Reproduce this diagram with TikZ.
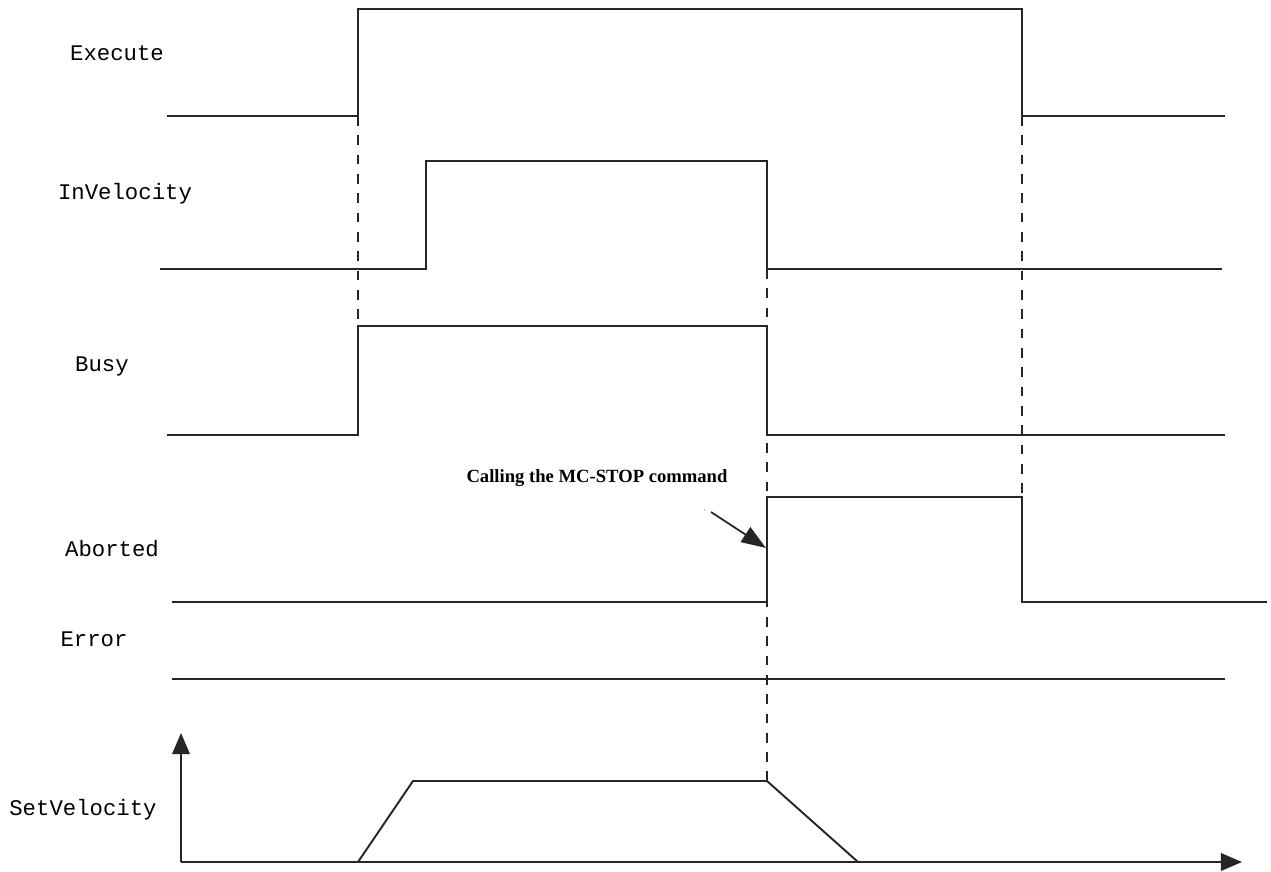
\documentclass[tikz,border=0pt]{standalone}
\usepackage{fontspec}
\setmainfont{Liberation Serif}
\newfontfamily\sigfont{Liberation Mono}
\usetikzlibrary{arrows.meta}

\tikzset{
  sigline/.style={black!85, line width=1.1pt},
  guide/.style={black!85, line width=1.1pt, dash pattern=on 5.5pt off 5.5pt},
  signame/.style={font=\sigfont\fontsize{12.7}{15}\selectfont},
  note/.style={font=\bfseries\fontsize{10.6}{12}\selectfont}
}

\begin{document}
\begin{tikzpicture}[x=0.02cm, y=-0.02cm, >={Triangle[length=12pt, width=10pt]}]
    \useasboundingbox (0,0) rectangle (1271,872);

    % 1. signal names
    \node[signame] (exe)  at (117,53)  {Execute};
    \node[signame] (inv)  at (125,194) {InVelocity};
    \node[signame] (busy) at (102,366) {Busy};
    \node[signame] (abt)  at (112,549) {Aborted};
    \node[signame] (err)  at (94,639)  {Error};
    \node[signame] (setv) at (83,810)  {SetVelocity};

    % 2. dashed guides (drawn first, under the edges)
    \draw[guide] (358,116) -- (358,326);
    \draw[guide] (767,269) -- (767,781);
    \draw[guide] (1022,116) -- (1022,497);

    % 3. digital signals
    \draw[sigline] (167,116) -- (358,116) -- (358,9) -- (1022,9) -- (1022,116) -- (1225,116);
    \draw[sigline] (160,269) -- (426,269) -- (426,161) -- (767,161) -- (767,269) -- (1222,269);
    \draw[sigline] (167,435) -- (358,435) -- (358,326) -- (767,326) -- (767,435) -- (1225,435);
    \draw[sigline] (172,602) -- (767,602) -- (767,497) -- (1022,497) -- (1022,602) -- (1267,602);
    \draw[sigline] (172,679) -- (1225,679);

    % 4. velocity profile with axes
    \draw[sigline, ->] (181,862) -- (181,733);
    \draw[sigline, ->] (181,862) -- (1242,862);
    \draw[sigline] (358,862) -- (413,781) -- (767,781) -- (858,862);

    % 5. stop command note
    \node[note] (stop) at (597,478) {Calling the MC-STOP command};
    \coordinate (from) at (711,512);
    \coordinate (hit) at (766,548);
    \draw[sigline, line width=1pt, -{Triangle[length=14pt, width=10pt]}] (from) -- (hit);
    \fill[black!70] (705,510) circle (0.7);

\end{tikzpicture}
\end{document}
